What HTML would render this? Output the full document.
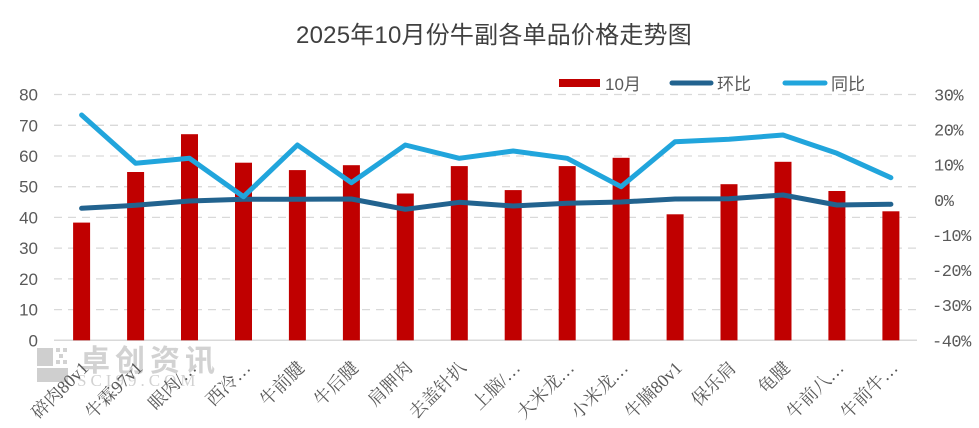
<!DOCTYPE html>
<html><head><meta charset="utf-8">
<style>
html,body{margin:0;padding:0;background:#fff;}
svg{display:block;}
</style></head>
<body>
<svg width="979" height="428" viewBox="0 0 979 428" xmlns="http://www.w3.org/2000/svg">
<rect width="979" height="428" fill="#fff"/>
<!-- title -->
<text x="494" y="43" text-anchor="middle" font-family="'Liberation Sans','Noto Sans CJK SC',sans-serif" font-size="24" fill="#404040" letter-spacing="0.2">2025年10月份牛副各单品价格走势图</text>

<!-- legend -->
<rect x="559" y="79" width="41" height="8" fill="#C00000"/>
<text x="605" y="90" font-family="'Liberation Sans','Noto Sans CJK SC',sans-serif" font-size="17" fill="#595959">10月</text>
<line x1="672" y1="83" x2="711" y2="83" stroke="#22638F" stroke-width="5" stroke-linecap="round"/>
<text x="717" y="90" font-family="'Liberation Sans','Noto Sans CJK SC',sans-serif" font-size="17" fill="#595959">环比</text>
<line x1="785" y1="83" x2="825" y2="83" stroke="#21A5DC" stroke-width="5" stroke-linecap="round"/>
<text x="831" y="90" font-family="'Liberation Sans','Noto Sans CJK SC',sans-serif" font-size="17" fill="#595959">同比</text>

<!-- gridlines -->
<g stroke="#D9D9D9" stroke-width="1.3" stroke-dasharray="8,6">
<line x1="54" y1="94.5" x2="917" y2="94.5"/>
<line x1="54" y1="125.3" x2="917" y2="125.3"/>
<line x1="54" y1="156.0" x2="917" y2="156.0"/>
<line x1="54" y1="186.7" x2="917" y2="186.7"/>
<line x1="54" y1="217.4" x2="917" y2="217.4"/>
<line x1="54" y1="248.1" x2="917" y2="248.1"/>
<line x1="54" y1="278.9" x2="917" y2="278.9"/>
<line x1="54" y1="309.6" x2="917" y2="309.6"/>
</g>

<!-- watermark -->
<g opacity="0.8">
<rect x="37" y="348" width="16" height="18" fill="#C4C4C4"/>
<rect x="37" y="368" width="31" height="14" fill="#C4C4C4"/>
<g fill="#C8C8C8">
<rect x="56" y="348" width="4" height="4"/><rect x="63" y="348" width="4" height="4"/>
<rect x="59" y="354" width="4" height="4"/><rect x="56" y="360" width="4" height="4"/><rect x="63" y="360" width="4" height="4"/>
</g>
<text x="80" y="371" font-family="'Liberation Sans','Noto Sans CJK SC',sans-serif" font-size="30" font-weight="bold" fill="#C8C8C8" letter-spacing="5">卓创资讯</text>
<text x="77" y="386" font-family="'Liberation Serif',serif" font-size="17" fill="#C8C8C8" letter-spacing="4">SCI99.COM</text>
</g>

<!-- axis line -->
<line x1="54" y1="340.3" x2="917" y2="340.3" stroke="#D9D9D9" stroke-width="1.5"/>

<!-- left axis labels -->
<g font-family="'Liberation Sans',sans-serif" font-size="17" fill="#595959" text-anchor="end">
<text x="38" y="100.5">80</text>
<text x="38" y="131.3">70</text>
<text x="38" y="162">60</text>
<text x="38" y="192.7">50</text>
<text x="38" y="223.4">40</text>
<text x="38" y="254.1">30</text>
<text x="38" y="284.9">20</text>
<text x="38" y="315.6">10</text>
<text x="38" y="346.3">0</text>
</g>

<!-- right axis labels -->
<g font-family="'Liberation Mono',monospace" font-size="17" fill="#595959" letter-spacing="-0.5">
<text x="934" y="100.5">30%</text>
<text x="934" y="135.6">20%</text>
<text x="934" y="170.7">10%</text>
<text x="934" y="205.8">0%</text>
<text x="932" y="241">-10%</text>
<text x="932" y="276.1">-20%</text>
<text x="932" y="311.2">-30%</text>
<text x="932" y="346.3">-40%</text>
</g>

<!-- bars -->
<g fill="#C00000">
<rect x="73.1" y="222.6" width="17" height="117.7"/>
<rect x="127.1" y="172.0" width="17" height="168.3"/>
<rect x="181.0" y="134.2" width="17" height="206.1"/>
<rect x="235.0" y="162.7" width="17" height="177.6"/>
<rect x="288.9" y="170.1" width="17" height="170.2"/>
<rect x="342.9" y="165.2" width="17" height="175.1"/>
<rect x="396.8" y="193.5" width="17" height="146.8"/>
<rect x="450.8" y="166.1" width="17" height="174.2"/>
<rect x="504.7" y="190.1" width="17" height="150.2"/>
<rect x="558.7" y="166.1" width="17" height="174.2"/>
<rect x="612.6" y="157.8" width="17" height="182.5"/>
<rect x="666.6" y="214.3" width="17" height="126.0"/>
<rect x="720.5" y="184.2" width="17" height="156.1"/>
<rect x="774.5" y="161.8" width="17" height="178.5"/>
<rect x="828.4" y="191.0" width="17" height="149.3"/>
<rect x="882.4" y="211.3" width="17" height="129.0"/>
</g>

<!-- 环比 -->
<polyline fill="none" stroke="#22638F" stroke-width="5" stroke-linejoin="round" stroke-linecap="round"
points="81.6,208.3 135.6,205.3 189.5,201 243.5,199.3 297.4,199.3 351.4,199 405.3,209.3 459.3,202.3 513.2,206 567.2,203.3 621.1,202 675.1,199 729.0,198.7 783.0,195 836.9,205 890.9,204.3"/>
<!-- 同比 -->
<polyline fill="none" stroke="#21A5DC" stroke-width="5" stroke-linejoin="round" stroke-linecap="round"
points="81.6,115 135.6,163.3 189.5,158.3 243.5,196.7 297.4,145 351.4,182.7 405.3,145 459.3,158.3 513.2,151 567.2,158.3 621.1,186.7 675.1,141.7 729.0,139.3 783.0,135 836.9,153.3 890.9,177.7"/>

<!-- category labels -->
<g font-family="'Liberation Serif','Noto Serif CJK SC',serif" font-size="18" fill="#595959" text-anchor="end">
<text transform="translate(89.6,369) rotate(-45)">碎肉80v1</text>
<text transform="translate(143.6,369) rotate(-45)">牛霖97v1</text>
<text transform="translate(197.5,369) rotate(-45)">眼肉/…</text>
<text transform="translate(251.5,369) rotate(-45)">西冷…</text>
<text transform="translate(305.4,369) rotate(-45)">牛前腱</text>
<text transform="translate(359.4,369) rotate(-45)">牛后腱</text>
<text transform="translate(413.3,369) rotate(-45)">肩胛肉</text>
<text transform="translate(467.3,369) rotate(-45)">去盖针扒</text>
<text transform="translate(521.2,369) rotate(-45)">上脑/…</text>
<text transform="translate(575.2,369) rotate(-45)">大米龙…</text>
<text transform="translate(629.1,369) rotate(-45)">小米龙…</text>
<text transform="translate(683.1,369) rotate(-45)">牛腩80v1</text>
<text transform="translate(737.0,369) rotate(-45)">保乐肩</text>
<text transform="translate(791.0,369) rotate(-45)">龟腱</text>
<text transform="translate(844.9,369) rotate(-45)">牛前八…</text>
<text transform="translate(898.9,369) rotate(-45)">牛前牛…</text>
</g>
</svg>
</body></html>
